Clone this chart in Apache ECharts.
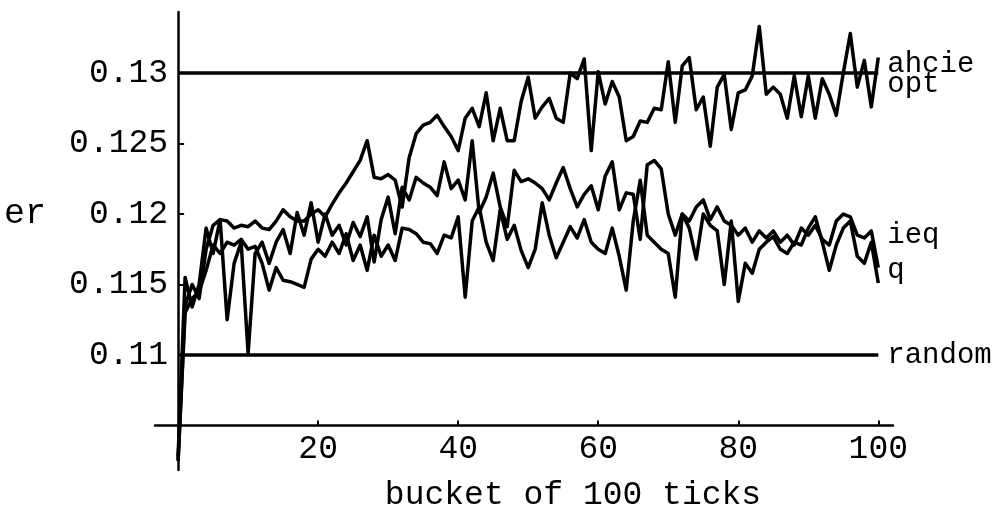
<!DOCTYPE html>
<html>
<head>
<meta charset="utf-8">
<script src="https://cdn.jsdelivr.net/npm/echarts@6/dist/echarts.min.js"></script>
<style>
  html, body { margin: 0; padding: 0; background: #fff; }
  #chart { width: 996px; height: 508px; }
</style>
</head>
<body>
<div id="chart"></div>
<script>
// bucket index (each bucket = 100 ticks)
const buckets = Array.from({ length: 101 }, (_, i) => i);

// reference levels
const ahcieLevel = 0.13;
const randomLevel = 0.11;

// learned policies, one value per bucket
const opt = [
  0.1025, 0.1135, 0.1150, 0.1140, 0.1175, 0.1192, 0.1196, 0.1195, 0.1190, 0.1192,
  0.1191, 0.1195, 0.1190, 0.1189, 0.1195, 0.1203, 0.1198, 0.1195, 0.1195, 0.1200,
  0.1203, 0.1198, 0.1207, 0.1215, 0.1222, 0.1230, 0.1238, 0.1252, 0.1226, 0.1225,
  0.1228, 0.1224, 0.1205, 0.1240, 0.1257, 0.1263, 0.1265, 0.1270, 0.1262, 0.1255,
  0.1245, 0.1268, 0.1275, 0.1262, 0.1286, 0.1252, 0.1275, 0.1252, 0.1252, 0.1280,
  0.1297, 0.1268, 0.1276, 0.1282, 0.1268, 0.1265, 0.1300, 0.1296, 0.1310, 0.1245,
  0.1301, 0.1278, 0.1294, 0.1283, 0.1252, 0.1255, 0.1266, 0.1265, 0.1275, 0.1274,
  0.1308, 0.1265, 0.1305, 0.1311, 0.1274, 0.1283, 0.1248, 0.1290, 0.1299, 0.1260,
  0.1286, 0.1288, 0.1298, 0.1333, 0.1285, 0.1290, 0.1285, 0.1268, 0.1298, 0.1269,
  0.1298, 0.1268, 0.1296, 0.1285, 0.1270, 0.1300, 0.1328, 0.1290, 0.1309, 0.1276,
  0.1311
];

const ieq = [
  0.1028, 0.1155, 0.1134, 0.1150, 0.1190, 0.1172, 0.1196, 0.1125, 0.1165, 0.1180,
  0.1101, 0.1172, 0.1180, 0.1165, 0.1180, 0.1189, 0.1172, 0.1201, 0.1185, 0.1208,
  0.1180, 0.1200, 0.1185, 0.1192, 0.1178, 0.1194, 0.1184, 0.1198, 0.1166, 0.1196,
  0.1212, 0.1186, 0.1219, 0.1210, 0.1226, 0.1222, 0.1219, 0.1213, 0.1237, 0.1218,
  0.1224, 0.1210, 0.1252, 0.1201, 0.1212, 0.1229, 0.1205, 0.1191, 0.1231, 0.1223,
  0.1225, 0.1222, 0.1218, 0.1210, 0.1222, 0.1233, 0.1218, 0.1205, 0.1214, 0.1220,
  0.1203, 0.1227, 0.1237, 0.1203, 0.1215, 0.1214, 0.1182, 0.1235, 0.1238, 0.1232,
  0.1200, 0.1185, 0.1200, 0.1195, 0.1205, 0.1210, 0.1196, 0.1205, 0.1195, 0.1192,
  0.1185, 0.1190, 0.1180, 0.1188, 0.1183, 0.1188, 0.1180, 0.1185, 0.1178, 0.1190,
  0.1185, 0.1192, 0.1182, 0.1178, 0.1195, 0.1200, 0.1198, 0.1185, 0.1183, 0.1188,
  0.1162
];

const q = [
  0.1025, 0.1130, 0.1140, 0.1145, 0.1160, 0.1178, 0.1172, 0.1180, 0.1178, 0.1182,
  0.1175, 0.1177, 0.1165, 0.1146, 0.1162, 0.1153, 0.1152, 0.1150, 0.1148, 0.1168,
  0.1175, 0.1170, 0.1180, 0.1172, 0.1186, 0.1167, 0.1178, 0.1160, 0.1185, 0.1170,
  0.1178, 0.1167, 0.1190, 0.1189, 0.1186, 0.1180, 0.1179, 0.1172, 0.1185, 0.1183,
  0.1198, 0.1141, 0.1195, 0.1205, 0.1180, 0.1167, 0.1203, 0.1182, 0.1192, 0.1174,
  0.1162, 0.1175, 0.1208, 0.1185, 0.1169, 0.1180, 0.1191, 0.1183, 0.1196, 0.1180,
  0.1175, 0.1172, 0.1190, 0.1170, 0.1146, 0.1195, 0.1224, 0.1185, 0.1180, 0.1175,
  0.1172, 0.1141, 0.1200, 0.1190, 0.1168, 0.1200, 0.1192, 0.1188, 0.1150, 0.1195,
  0.1138, 0.1165, 0.1158, 0.1175, 0.1180, 0.1184, 0.1175, 0.1172, 0.1180, 0.1178,
  0.1190, 0.1198, 0.1180, 0.1160, 0.1178, 0.1190, 0.1195, 0.1170, 0.1165, 0.1180,
  0.1151
];

// tick labels
const xTicks = [20, 40, 60, 80, 100];
const yTicks = [0.11, 0.115, 0.12, 0.125, 0.13];

// plot range and where the two axes cross
const xMin = -3.3, xMax = 102.1;
const yMin = 0.10184, yMax = 0.13433;
const crossX = 0, crossY = 0.105;
const yTitleAt = 0.12;

const FONT = '"Liberation Mono", "DejaVu Sans Mono", monospace';
const INK = '#000';

const pair = (v) => buckets.map((b, i) => [b, v[i]]);
const flat = (level) => [[buckets[0], level], [buckets[buckets.length - 1], level]];

function lineSeries(name, data, labelDy) {
  return {
    name, type: 'line', data,
    showSymbol: false, symbol: 'none', clip: false, animation: false,
    lineStyle: { color: INK, width: 3.5, join: 'round' },
    endLabel: {
      show: true, formatter: '{a}', distance: 9, offset: [0, labelDy],
      fontFamily: FONT, fontSize: 29, color: INK
    }
  };
}

const option = {
  animation: false,
  backgroundColor: '#fff',
  grid: { left: 155, right: 103, top: 12, bottom: 38, containLabel: false, outerBoundsMode: 'none' },
  xAxis: {
    type: 'value', min: xMin, max: xMax,
    name: 'bucket of 100 ticks', nameLocation: 'middle', nameGap: 53,
    nameTextStyle: { fontFamily: FONT, fontSize: 33, color: INK, padding: [0, 0, 0, 98] },
    axisLine: { show: true, onZero: false, lineStyle: { color: INK, width: 2.5 } },
    axisTick: { show: true, inside: true, length: 5, customValues: xTicks, lineStyle: { color: INK, width: 2 } },
    axisLabel: { customValues: xTicks, margin: 7, fontFamily: FONT, fontSize: 33, color: INK },
    splitLine: { show: false }
  },
  yAxis: {
    type: 'value', min: yMin, max: yMax,
    axisLine: { show: true, onZero: false, lineStyle: { color: INK, width: 2.5 } },
    axisTick: { show: true, inside: true, length: 6, customValues: yTicks, lineStyle: { color: INK, width: 2 } },
    axisLabel: {
      customValues: yTicks, margin: 10, fontFamily: FONT, fontSize: 33, color: INK,
      formatter: (v) => String(+v.toFixed(3))
    },
    splitLine: { show: false }
  },
  series: [
    lineSeries('ahcie', flat(ahcieLevel), -9),
    lineSeries('opt', pair(opt), 27),
    lineSeries('ieq', pair(ieq), -32),
    lineSeries('q', pair(q), -13),
    lineSeries('random', flat(randomLevel), 0)
  ]
};

const chart = echarts.init(document.getElementById('chart'), null, { renderer: 'canvas' });
chart.setOption(option);

// move both axis lines to the crossing point (x = 0, y = 0.105)
const cross = chart.convertToPixel({ gridIndex: 0 }, [crossX, crossY]);
const corner = chart.convertToPixel({ gridIndex: 0 }, [xMin, yMin]);
const titleY = chart.convertToPixel({ gridIndex: 0 }, [crossX, yTitleAt])[1];
chart.setOption({
  xAxis: { offset: -(corner[1] - cross[1]) },
  yAxis: { offset: -(cross[0] - corner[0]) },
  graphic: [{
    type: 'text', left: 4, top: titleY - 18,
    style: { text: 'er', font: '35px ' + FONT, fill: INK }
  }]
});
</script>
</body>
</html>
